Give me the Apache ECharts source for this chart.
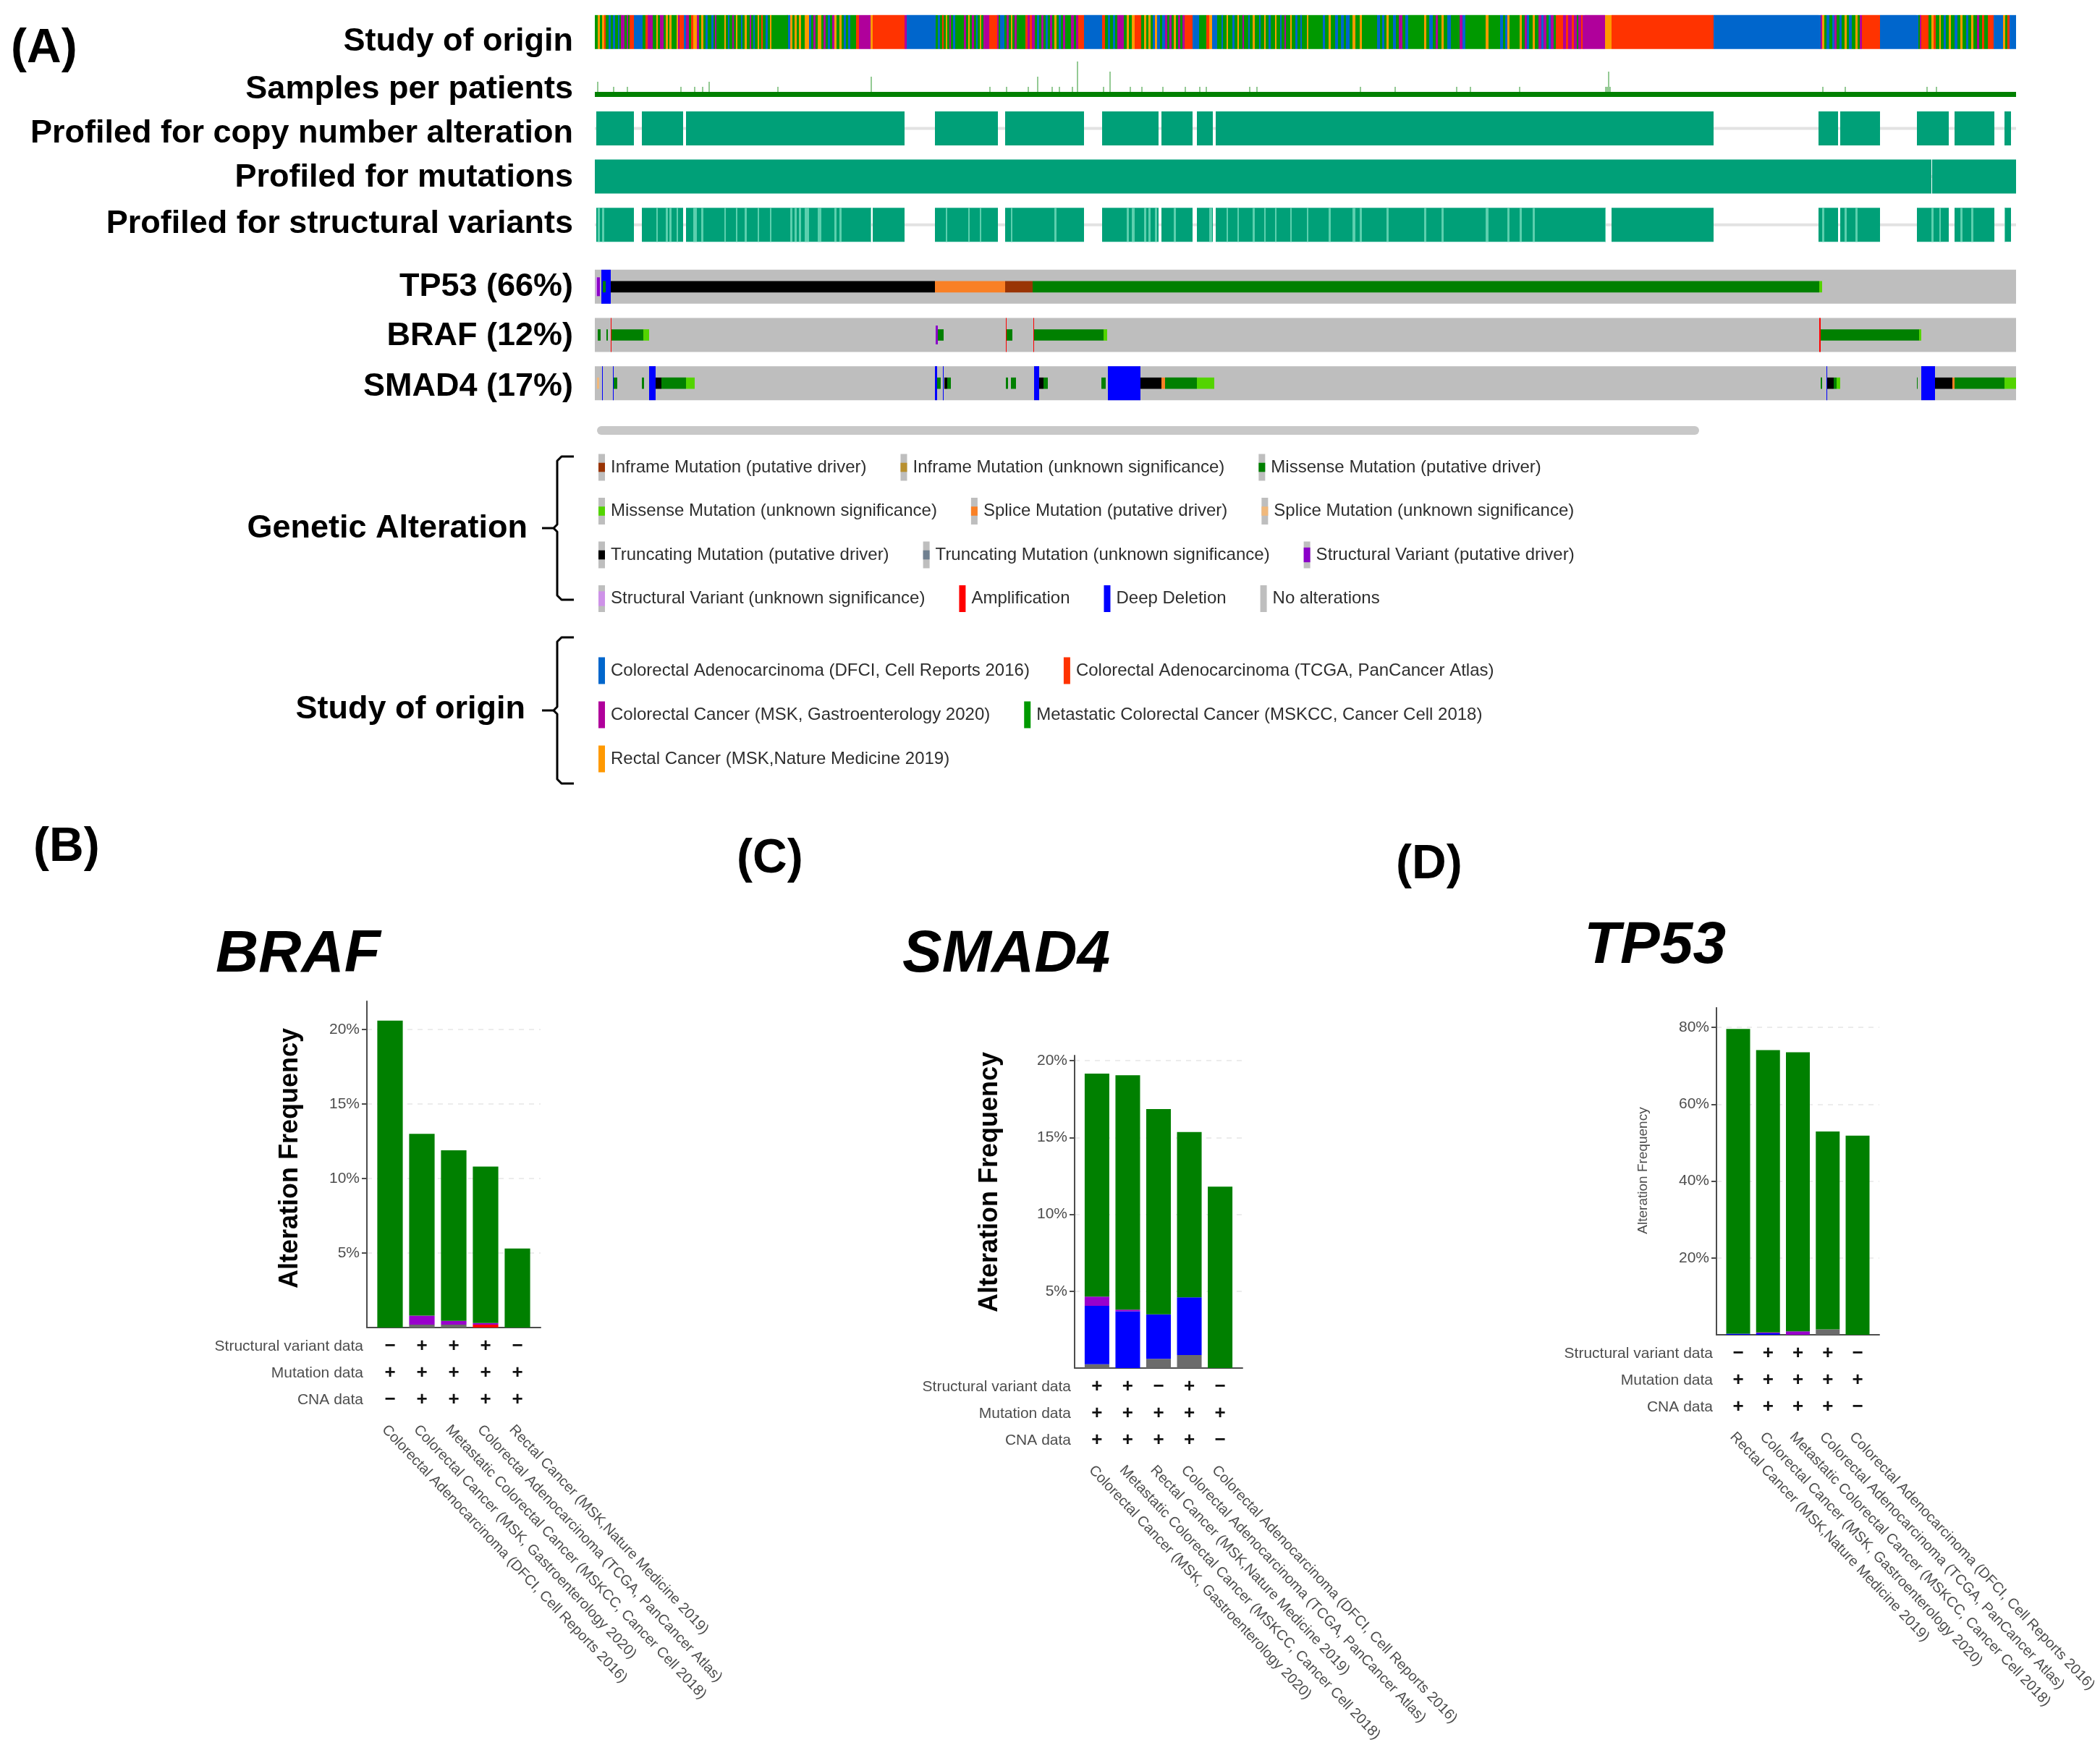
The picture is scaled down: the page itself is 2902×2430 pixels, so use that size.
<!DOCTYPE html>
<html>
<head>
<meta charset="utf-8">
<title>Oncoprint and alteration frequency</title>
<script src="https://cdn.jsdelivr.net/npm/echarts@6/dist/echarts.min.js"></script>
<style>
html,body{margin:0;padding:0;background:#ffffff;}
#chart{width:2902px;height:2430px;}
</style>
</head>
<body>
<div id="chart"></div>
<script>
// ======================= DATA =======================
// ---- (A) Oncoprint : sample columns 0..1964 (left to right order of the oncoprint)
const sampleColumnCount = 1964;
const clinicalTrackNames = ['Study of origin', 'Samples per patients', 'Profiled for copy number alteration', 'Profiled for mutations', 'Profiled for structural variants'];
const geneTrackNames = ['TP53 (66%)', 'BRAF (12%)', 'SMAD4 (17%)'];
const studyCodes = ['B', 'R', 'P', 'G', 'O'];
const studyNames = ['Colorectal Adenocarcinoma (DFCI, Cell Reports 2016)', 'Colorectal Adenocarcinoma (TCGA, PanCancer Atlas)', 'Colorectal Cancer (MSK, Gastroenterology 2020)', 'Metastatic Colorectal Cancer (MSKCC, Cancer Cell 2018)', 'Rectal Cancer (MSK,Nature Medicine 2019)'];
// study of origin per sample column, run-length coded (study code + number of columns)
const studyOfOriginRuns = [
  'G4 O3 G3 O3 R2 G4 B3 G3 B3 G4 B2 G2 P2 P3 G3 P2 G2 R6 B12 G4 R3 P2 P5 G5 O2 G3 P5 G3 O3 G2 O3 G7 O2 P2 R6 B3 P4 G3 R3 O2',
  'O3 P3 G3 O3 G3 B3 G5 B3 G2 P2 G7',
  'G4 O2 G3 B2 G4 P2 G3 O2 G5 B2 G3 O3 G4 P2 G3 B2 G4 O2 G3 R2 G4 B3 G3 O2 G4',
  'G17 G2 B3 O3 G3 O3 G3 O3 G5 O6 B3 G3 P3 G3 O5 G3 P3 G3 B3 G3 P3 O3 G4 O3 G3 B3 G3 B3 G8 R4 P5 P11 O3 R44 P3 B40',
  'G3 B3 G3 R2 G3 O2 G3 P2 G3 B3 G12 P3 G3 O2 G3 P3 G3 B2 G3 O2 G3 P3 P5 R11 P2 G2 B6',
  'G3 P3 G3 O2 G3 P3 G2 G10 R3 P3 R3 P4 G3 B3 G3 P3 G3 B3 G3 P3 G3 O3 G3 B3 G3 P3 G8 P4 G3 P3 R8 B25 R4',
  'G4 B3 G4 B3 G3 P3 P6 G4 O3 G4 O4 R9 G4 O3 G3 O3 G3 B3 O3 B4 G3 B4 P3 G3 P3 G3 O3 G3 P3 G3 P3 R11 B9 G10 R4 O4 B7',
  'G6 B2 G5 O2 G6 B3 G4 O2 G5 P2 G6 B2 G4 O3 G6 B2 G5 O2 G4 B3 G6 O2 G5 B2 G4 P2 G6 O2 G5 B3 G4 B2 G7 O2 G4 G8',
  'G8 B3 G5 O3 G6 B4 G4 B4 G3 B5 G4 O4 G6 O3 G21 B4 G3 B3 G3 O3 G6 B4 G4 P5 G4 B4 G22 O3 G4 B5 G4 P3 G5 O3 G5 B5 G12 P4 B4 G28',
  'O4 G16 B4 G3 B3 O3 G14 O3 G4 P3 B3 G5 O3 G5 P4 B3 P4 G3 B3 P4 G3',
  'R10 P4 R3 P5 R3 P4 G2 P4 R2 P3 P28 O9 R141 B145',
  'B3 P2 O3 G3 B4 G4 B3 P3 G4 B3 G4 O3 G3 B4 G5 O3 G3 P3 R25 B50 B3 G2 P2 R10',
  'G4 O3 R3 G5 O2 G4 B3 G4 O3 G5 B4 G4 O3 G5 B3 G4 O3 G5 P3 G4 R3 G5 R8 B13 O3 G3 R3 B3 B6'
].join(' ');
// patients with more than one sample: [column, number of samples]
const multiSamplePatients = [[3,3],[25,2],[44,2],[118,2],[137,2],[148,2],[157,3],[252,2],[381,4],[545,2],[568,2],[598,2],[611,4],[631,2],[641,2],[659,2],[666,7],[702,2],[711,5],[739,2],[755,2],[784,2],[815,2],[835,2],[844,2],[904,2],[914,2],[1057,2],[1105,2],[1190,2],[1209,2],[1277,2],[1396,2],[1398,2],[1400,5],[1402,2],[1696,2],[1727,2],[1840,2],[1853,2]];
const cnaProfiledRanges = [[2,54],[65,122],[126,428],[470,557],[567,676],[701,779],[783,826],[832,854],[858,1546],[1691,1718],[1721,1776],[1827,1871],[1879,1934],[1948,1957]];
const mutationProfiledRanges = [[0,1847],[1848,1964]];
const svProfiledRanges = [[2,54],[65,122],[126,382],[384,428],[470,557],[567,676],[701,779],[783,826],[832,854],[858,1397],[1405,1546],[1691,1718],[1721,1776],[1827,1871],[1879,1934],[1948,1957]];
// gene alterations: [startColumn, endColumn, alteration type]
const tp53Alterations = [[1,3,'SVU'],[3,7,'SV'],[9,22,'DEL'],[11,15,'MIS'],[22,470,'TRUNC'],[470,567,'SPL'],[567,605,'INF'],[605,1692,'MIS'],[1692,1696,'MISU']];
const brafAlterations = [[4,8,'MIS'],[16,18,'MIS'],[22,23,'AMP'],[23,67,'MIS'],[67,75,'MISU'],[471,474,'SV'],[474,482,'MIS'],[568,569,'AMP'],[569,577,'MIS'],[606,607,'AMP'],[607,703,'MIS'],[703,708,'MISU'],[1692,1694,'AMP'],[1694,1830,'MIS'],[1830,1833,'MISU']];
const smad4Alterations = [[3,6,'SPLU'],[10,11,'DEL'],[25,26,'DEL'],[26,31,'MIS'],[65,68,'MIS'],[75,84,'DEL'],[84,92,'TRUNC'],[92,126,'MIS'],[126,138,'MISU'],[470,473,'DEL'],[473,478,'MIS'],[481,482,'DEL'],[483,487,'TRUNC'],[487,492,'MIS'],[568,571,'MIS'],[575,582,'MIS'],[607,614,'DEL'],[614,620,'TRUNC'],[620,626,'MIS'],[700,706,'MIS'],[709,754,'DEL'],[754,783,'TRUNC'],[783,788,'SPL'],[788,832,'MIS'],[832,856,'MISU'],[1694,1696,'MIS'],[1702,1703,'DEL'],[1703,1712,'TRUNC'],[1712,1716,'MIS'],[1716,1721,'MISU'],[1827,1828,'MIS'],[1833,1852,'DEL'],[1852,1876,'TRUNC'],[1876,1879,'SPL'],[1879,1948,'MIS'],[1948,1964,'MISU']];
const legendTitles = ['Genetic Alteration', 'Study of origin'];
const alterationLegendKeys = ['INF','INFU','MIS','MISU','SPL','SPLU','TRUNC','TRUNCU','SV','SVU','AMP','DEL','NONE'];
const alterationLegendLabels = ['Inframe Mutation (putative driver)','Inframe Mutation (unknown significance)','Missense Mutation (putative driver)','Missense Mutation (unknown significance)','Splice Mutation (putative driver)','Splice Mutation (unknown significance)','Truncating Mutation (putative driver)','Truncating Mutation (unknown significance)','Structural Variant (putative driver)','Structural Variant (unknown significance)','Amplification','Deep Deletion','No alterations'];

// ---- (B)(C)(D) alteration frequency by study (percent)
const annotationRowNames = ['Structural variant data', 'Mutation data', 'CNA data'];
const DFCI = studyNames[0], TCGA = studyNames[1], MSK20 = studyNames[2], MSKCC18 = studyNames[3], RECTAL = studyNames[4];

const brafCategories = [DFCI, MSK20, MSKCC18, TCGA, RECTAL];
const brafMultiple = [0, 0.2, 0.2, 0, 0];
const brafDeepDeletion = [0, 0, 0, 0, 0];
const brafAmplification = [0, 0, 0, 0.2, 0];
const brafStructuralVariant = [0, 0.6, 0.25, 0.1, 0];
const brafMutation = [20.6, 12.2, 11.45, 10.5, 5.3];
const brafSVData = ['−','+','+','+','−'];
const brafMutationData = ['+','+','+','+','+'];
const brafCNAData = ['−','+','+','+','+'];

const smad4Categories = [MSK20, MSKCC18, RECTAL, TCGA, DFCI];
const smad4Multiple = [0.25, 0, 0.6, 0.85, 0];
const smad4DeepDeletion = [3.8, 3.7, 2.9, 3.75, 0];
const smad4Amplification = [0, 0, 0, 0, 0];
const smad4StructuralVariant = [0.6, 0.1, 0, 0, 0];
const smad4Mutation = [14.5, 15.25, 13.35, 10.75, 11.8];
const smad4SVData = ['+','+','−','+','−'];
const smad4MutationData = ['+','+','+','+','+'];
const smad4CNAData = ['+','+','+','+','−'];

const tp53Categories = [RECTAL, MSK20, MSKCC18, TCGA, DFCI];
const tp53Multiple = [0, 0, 0, 1.4, 0];
const tp53DeepDeletion = [0.3, 0.4, 0, 0, 0];
const tp53Amplification = [0, 0, 0, 0, 0];
const tp53StructuralVariant = [0, 0.2, 0.9, 0, 0];
const tp53Mutation = [79.3, 73.5, 72.6, 51.5, 51.8];
const tp53SVData = ['−','+','+','+','−'];
const tp53MutationData = ['+','+','+','+','+'];
const tp53CNAData = ['+','+','+','+','−'];

// ======================= STYLE =======================
const FONT = '"Liberation Sans", Arial, Helvetica, sans-serif';
const studyColors = {B:'#0066cc', R:'#ff3300', P:'#b0009b', G:'#009900', O:'#ff9900'};
const alterationColors = {INF:'#993404', INFU:'#b8902f', MIS:'#008000', MISU:'#53d400', SPL:'#f98025', SPLU:'#f0b87b', TRUNC:'#000000', TRUNCU:'#708090', SV:'#8b00c9', SVU:'#ce92e8', AMP:'#ff0000', DEL:'#0000ff', NONE:'#bebebe'};
const alterationShape = {INF:'inner', INFU:'inner', MIS:'inner', MISU:'inner', SPL:'inner', SPLU:'inner', TRUNC:'inner', TRUNCU:'inner', SV:'sv', SVU:'sv', AMP:'full', DEL:'full', NONE:'full'};
const PROFILED = '#00a078', PROFILED_LIGHT = '#5ccfae', UNPROFILED_LINE = '#e2e2e2';
const barColors = {multiple:'#6b6b6b', deepdel:'#0000ff', amp:'#ff0000', sv:'#9900cc', mutation:'#008000'};
const AXIS = '#4d4d4d';
const H_FULL = 0.705, H_INNER = 0.235, H_SV = 0.39, H_LINE = 0.06;
function shapeFrac(k){ const s = alterationShape[k]; return s === 'full' ? H_FULL : (s === 'sv' ? H_SV : H_INNER); }
// vertical nudge of the track names (px, + = down)
const CLINICAL_LABEL_SHIFT = [13, 13, 7, 1, -1];
const GENE_LABEL_SHIFT = [0, 2, 5];

// ======================= BUILD =======================
const grids = [], xAxes = [], yAxes = [], series = [], graphics = [];
const gridBase = {containLabel:false, outerBoundsMode:'none'};

// --- oncoprint grids
function trackLabelAxis(gi, names, shifts){
  const rich = {};
  shifts.forEach((s, i) => {
    rich['s' + i] = {fontSize:45, fontWeight:'bold', color:'#000', fontFamily:FONT,
      padding: s >= 0 ? [2 * s, 0, 0, 0] : [0, 0, -2 * s, 0]};
  });
  return {gridIndex:gi, type:'category', inverse:true, data:names,
    axisLine:{show:false}, axisTick:{show:false}, splitLine:{show:false}, splitArea:{show:false},
    axisLabel:{interval:0, margin:30, fontSize:45, fontWeight:'bold', color:'#000', fontFamily:FONT,
      formatter:(v, i) => '{s' + i + '|' + v + '}', rich:rich}};
}
grids.push(Object.assign({left:822, top:11, width:1964, height:333}, gridBase));
xAxes.push({gridIndex:0, type:'value', min:0, max:sampleColumnCount, show:false});
yAxes.push(trackLabelAxis(0, clinicalTrackNames, CLINICAL_LABEL_SHIFT));
grids.push(Object.assign({left:822, top:85, width:1964, height:49}, gridBase));
xAxes.push({gridIndex:1, type:'value', min:0, max:sampleColumnCount, show:false});
yAxes.push({gridIndex:1, type:'value', min:0, max:7, show:false});
grids.push(Object.assign({left:822, top:363, width:1964, height:200}, gridBase));
xAxes.push({gridIndex:2, type:'value', min:0, max:sampleColumnCount, show:false});
yAxes.push(trackLabelAxis(2, geneTrackNames, GENE_LABEL_SHIFT));

function spanSeries(items, axisIndex){
  return {type:'custom', xAxisIndex:axisIndex, yAxisIndex:axisIndex, silent:true, animation:false,
    encode:{x:[0,1], y:2},
    data: items.map(d => [d.s, d.e, d.t]),
    renderItem(params, api){
      const d = items[params.dataIndex];
      const a = api.coord([api.value(0), api.value(2)]);
      const b = api.coord([api.value(1), api.value(2)]);
      const h = api.size([0, 1])[1] * d.h;
      return {type:'rect', shape:{x:a[0], y:a[1] - h / 2, width:Math.max(b[0] - a[0], 1), height:h}, style:{fill:d.color}};
    }};
}

// clinical tracks
const studyRuns = [];
let cursor = 0;
studyOfOriginRuns.trim().split(/\s+/).forEach(tok => {
  const code = tok[0], n = parseInt(tok.slice(1), 10);
  studyRuns.push({s:cursor, e:cursor + n, code});
  cursor += n;
});
const clinicalItems = [];
studyRuns.forEach(r => clinicalItems.push({s:r.s, e:r.e, t:0, h:H_FULL, color:studyColors[r.code]}));
[2, 3, 4].forEach(t => clinicalItems.push({s:0, e:sampleColumnCount, t, h:H_LINE, color:UNPROFILED_LINE}));
cnaProfiledRanges.forEach(([s, e]) => clinicalItems.push({s, e, t:2, h:H_FULL, color:PROFILED}));
mutationProfiledRanges.forEach(([s, e]) => clinicalItems.push({s, e, t:3, h:H_FULL, color:PROFILED}));
svProfiledRanges.forEach(([s, e]) => clinicalItems.push({s, e, t:4, h:H_FULL, color:PROFILED}));
// rectal cancer samples are not profiled for structural variants
studyRuns.filter(r => r.code === 'O').forEach(r => {
  svProfiledRanges.forEach(([s, e]) => {
    const a = Math.max(s, r.s), b = Math.min(e, r.e);
    if (b > a) clinicalItems.push({s:a, e:b, t:4, h:H_FULL, color:PROFILED_LIGHT});
  });
});
series.push(spanSeries(clinicalItems, 0));

// samples per patient
series.push({type:'custom', xAxisIndex:1, yAxisIndex:1, silent:true, animation:false,
  encode:{x:0, y:1}, data:multiSamplePatients,
  renderItem(params, api){
    const c = api.value(0), n = api.value(1);
    const a = api.coord([c, 0]), b = api.coord([c + 2, n]);
    return {type:'rect', shape:{x:a[0], y:b[1], width:b[0] - a[0], height:a[1] - b[1]}, style:{fill:'rgba(0,128,0,0.42)'}};
  }});
series.push({type:'custom', xAxisIndex:1, yAxisIndex:1, silent:true, animation:false,
  encode:{x:[0,1], y:2}, data:[[0, sampleColumnCount, 1]],
  renderItem(params, api){
    const a = api.coord([api.value(0), 0]), b = api.coord([api.value(1), api.value(2)]);
    return {type:'rect', shape:{x:a[0], y:b[1], width:b[0] - a[0], height:a[1] - b[1]}, style:{fill:'#008000'}};
  }});

// gene tracks
const geneItems = [];
[tp53Alterations, brafAlterations, smad4Alterations].forEach((list, t) => {
  geneItems.push({s:0, e:sampleColumnCount, t, h:H_FULL, color:alterationColors.NONE});
  list.forEach(([s, e, k]) => geneItems.push({s, e, t, h:shapeFrac(k), color:alterationColors[k]}));
});
series.push(spanSeries(geneItems, 2));

// --- bar chart panels
const PAD = 0.727;            // axis extent beyond outer bar centres, in category units
const ANN_OFFSETS = [26, 63, 100];
const NAME_LABEL_SHIFT = -8;  // rotated study names start slightly left of the bar centre
function addPanel(p){
  const L = p.axisRight - p.axisX;
  const u = L / (4 + 2 * PAD);
  const H = p.zeroY - p.axisTop;
  const yOf = v => p.zeroY - H * v / p.ymax;
  // axis-line grid (axis extends a little beyond the outer bars)
  const gP = grids.length;
  grids.push(Object.assign({left:p.axisX, top:p.axisTop, width:L, height:H}, gridBase));
  xAxes.push({gridIndex:gP, type:'value', min:0, max:1, position:'bottom', axisLine:{show:true, onZero:false, lineStyle:{color:AXIS, width:2}}, axisTick:{show:false}, axisLabel:{show:false}, splitLine:{show:false}});
  yAxes.push({gridIndex:gP, type:'value', min:0, max:p.ymax, axisLine:{show:true, onZero:false, lineStyle:{color:AXIS, width:2}}, axisTick:{show:false}, axisLabel:{show:false}, splitLine:{show:false}});
  // tick grid (ticks, labels, dashed grid lines)
  const top = yOf(p.topTick), bottom = yOf(p.step);
  const gG = grids.length;
  grids.push(Object.assign({left:p.axisX, top:top, width:L, height:bottom - top}, gridBase));
  xAxes.push({gridIndex:gG, type:'value', min:0, max:1, show:false});
  yAxes.push({gridIndex:gG, type:'value', min:p.step, max:p.topTick, interval:p.step,
    axisLine:{show:false}, axisTick:{show:true, length:7, lineStyle:{color:AXIS, width:2}},
    axisLabel:{margin:10, fontSize:21, color:'#4d4d4d', fontFamily:FONT, formatter:'{value}%'},
    splitLine:{show:true, lineStyle:{type:[7, 7], color:'#e6e6e6', width:1.5}}});
  // category grid (bars and profiling annotation)
  const gC = grids.length;
  const cLeft = p.axisX + (PAD - 0.5) * u;
  grids.push(Object.assign({left:cLeft, top:p.axisTop, width:5 * u, height:H}, gridBase));
  const yC = yAxes.length;
  yAxes.push({gridIndex:gC, type:'value', min:0, max:p.ymax, show:false});
  const xC = xAxes.length;
  xAxes.push({gridIndex:gC, type:'category', position:'bottom', data:p.categories, axisLine:{show:false}, axisTick:{show:false}, splitLine:{show:false}, axisLabel:{show:false}});
  p.marks.forEach((marks, r) => {
    xAxes.push({gridIndex:gC, type:'category', position:'bottom', data:p.categories, axisLine:{show:false}, axisTick:{show:false}, splitLine:{show:false},
      axisLabel:{interval:0, margin:ANN_OFFSETS[r], verticalAlign:'middle', fontSize:26, fontWeight:'bold', color:'#111', fontFamily:FONT, formatter:(v, i) => marks[i]}});
    graphics.push({type:'text', x:p.axisX - 5, y:p.zeroY + ANN_OFFSETS[r], silent:true,
      style:{text:annotationRowNames[r], fontSize:21, fontFamily:FONT, fill:'#4d4d4d', align:'right', verticalAlign:'middle'}});
  });
  // study-name grid (rotated category labels)
  const gN = grids.length;
  grids.push(Object.assign({left:cLeft + NAME_LABEL_SHIFT, top:p.axisTop, width:5 * u, height:H}, gridBase));
  yAxes.push({gridIndex:gN, type:'value', show:false});
  xAxes.push({gridIndex:gN, type:'category', position:'bottom', data:p.categories, axisLine:{show:false}, axisTick:{show:false}, splitLine:{show:false},
    axisLabel:{interval:0, rotate:-46.5, margin:138, fontSize:20, color:'#4d4d4d', fontFamily:FONT}});
  // stacked bars
  const order = ['multiple', 'deepdel', 'amp', 'sv', 'mutation'];
  order.forEach(k => series.push({type:'bar', name:k, xAxisIndex:xC, yAxisIndex:yC, stack:'st' + gC, barWidth:'80%',
    silent:true, animation:false, itemStyle:{color:barColors[k]}, data:p.values[k]}));
  // titles
  graphics.push({type:'text', x:p.title.x, y:p.title.y, silent:true,
    style:{text:p.gene, fontSize:82, fontWeight:'bold', fontStyle:'italic', fontFamily:FONT, fill:'#000', align:'left', verticalAlign:'middle'}});
  graphics.push({type:'text', x:p.panel.x, y:p.panel.y, silent:true,
    style:{text:p.panelLabel, fontSize:66, fontWeight:'bold', fontFamily:FONT, fill:'#000', align:'left', verticalAlign:'middle'}});
  graphics.push({type:'text', x:p.yTitle.x, y:p.yTitle.y, rotation:Math.PI / 2, silent:true,
    style:{text:'Alteration Frequency', fontSize:p.yTitle.size, fontWeight:p.yTitle.weight, fontFamily:FONT, fill:p.yTitle.color, align:'center', verticalAlign:'middle'}});
}

addPanel({gene:'BRAF', panelLabel:'(B)', categories:brafCategories,
  values:{multiple:brafMultiple, deepdel:brafDeepDeletion, amp:brafAmplification, sv:brafStructuralVariant, mutation:brafMutation},
  marks:[brafSVData, brafMutationData, brafCNAData],
  axisX:507, axisRight:747, axisTop:1384, zeroY:1835, ymax:21.9, step:5, topTick:20,
  title:{x:298, y:1320}, panel:{x:46, y:1172}, yTitle:{x:401, y:1601, size:36, weight:'bold', color:'#000'}});
addPanel({gene:'SMAD4', panelLabel:'(C)', categories:smad4Categories,
  values:{multiple:smad4Multiple, deepdel:smad4DeepDeletion, amp:smad4Amplification, sv:smad4StructuralVariant, mutation:smad4Mutation},
  marks:[smad4SVData, smad4MutationData, smad4CNAData],
  axisX:1485, axisRight:1717, axisTop:1459, zeroY:1891, ymax:20.33, step:5, topTick:20,
  title:{x:1247, y:1320}, panel:{x:1018, y:1188}, yTitle:{x:1368, y:1634, size:36, weight:'bold', color:'#000'}});
addPanel({gene:'TP53', panelLabel:'(D)', categories:tp53Categories,
  values:{multiple:tp53Multiple, deepdel:tp53DeepDeletion, amp:tp53Amplification, sv:tp53StructuralVariant, mutation:tp53Mutation},
  marks:[tp53SVData, tp53MutationData, tp53CNAData],
  axisX:2372, axisRight:2597, axisTop:1393, zeroY:1845, ymax:85.1, step:20, topTick:80,
  title:{x:2189, y:1308}, panel:{x:1929, y:1196}, yTitle:{x:2271, y:1618, size:19, weight:'normal', color:'#4d4d4d'}});

// --- oncoprint decorations & legend
graphics.push({type:'text', x:15, y:68, silent:true, style:{text:'(A)', fontSize:66, fontWeight:'bold', fontFamily:FONT, fill:'#000', align:'left', verticalAlign:'middle'}});
graphics.push({type:'rect', silent:true, shape:{x:825, y:589, width:1523, height:12, r:6}, style:{fill:'#c8c8c8'}});

const measureCtx = document.createElement('canvas').getContext('2d');
const LEG_SIZE = 24;
function textWidth(str){ measureCtx.font = LEG_SIZE + 'px ' + FONT; return measureCtx.measureText(str).width; }
function swatch(x, yc, fill, innerFill, innerFrac){
  const SH = 37, SW = 9;
  graphics.push({type:'rect', silent:true, shape:{x:x, y:yc - SH / 2, width:SW, height:SH}, style:{fill:fill}});
  if (innerFill) {
    const h = SH * innerFrac;
    graphics.push({type:'rect', silent:true, shape:{x:x, y:yc - h / 2, width:SW, height:h}, style:{fill:innerFill}});
  }
}
function legendText(x, yc, str){
  graphics.push({type:'text', x:x, y:yc, silent:true, style:{text:str, fontSize:LEG_SIZE, fontFamily:FONT, fill:'#2e2e2e', align:'left', verticalAlign:'middle'}});
}
function brace(x, y0, y1){
  const ym = (y0 + y1) / 2;
  const st = {fill:null, stroke:'#000', lineWidth:3, lineJoin:'round'};
  graphics.push({type:'polyline', silent:true, shape:{points:[[x + 23, y0], [x + 6, y0], [x, y0 + 6], [x, ym - 5], [x - 5, ym], [x - 21, ym]]}, style:st});
  graphics.push({type:'polyline', silent:true, shape:{points:[[x - 5, ym], [x, ym + 5], [x, y1 - 6], [x + 6, y1], [x + 23, y1]]}, style:st});
}
const GA_ROWS = [[0, 1, 2], [3, 4, 5], [6, 7, 8], [9, 10, 11, 12]];
GA_ROWS.forEach((row, r) => {
  let x = 827; const yc = 646 + r * 60.5;
  row.forEach(i => {
    const k = alterationLegendKeys[i];
    const sh = alterationShape[k];
    if (sh === 'full') swatch(x, yc, alterationColors[k]);
    else swatch(x, yc, alterationColors.NONE, alterationColors[k], sh === 'sv' ? 0.55 : 0.34);
    legendText(x + 17, yc, alterationLegendLabels[i]);
    x += 17 + textWidth(alterationLegendLabels[i]) + 47;
  });
});
const STUDY_ROWS = [[0, 1], [2, 3], [4]];
STUDY_ROWS.forEach((row, r) => {
  let x = 827; const yc = 927 + r * 61;
  row.forEach(i => {
    swatch(x, yc, studyColors[studyCodes[i]]);
    legendText(x + 17, yc, studyNames[i]);
    x += 17 + textWidth(studyNames[i]) + 47;
  });
});
graphics.push({type:'text', x:729, y:731, silent:true, style:{text:legendTitles[0], fontSize:45, fontWeight:'bold', fontFamily:FONT, fill:'#000', align:'right', verticalAlign:'middle'}});
graphics.push({type:'text', x:726, y:981, silent:true, style:{text:legendTitles[1], fontSize:45, fontWeight:'bold', fontFamily:FONT, fill:'#000', align:'right', verticalAlign:'middle'}});
brace(770, 631, 829);
brace(770, 881, 1083);

const option = {
  animation:false,
  backgroundColor:'#ffffff',
  textStyle:{fontFamily:FONT},
  grid:grids, xAxis:xAxes, yAxis:yAxes, series:series,
  graphic:{elements:graphics}
};
const chart = echarts.init(document.getElementById('chart'), null, {renderer:'canvas', width:2902, height:2430});
chart.setOption(option);
</script>
</body>
</html>
